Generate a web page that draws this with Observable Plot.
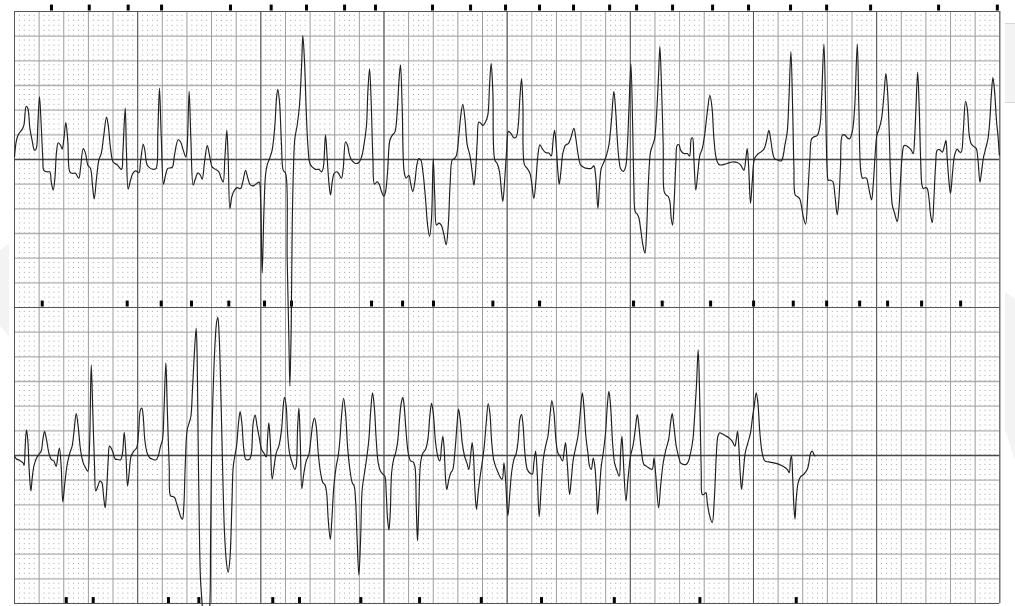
<!DOCTYPE html>
<html>
<head>
<meta charset="utf-8">
<script src="https://cdn.jsdelivr.net/npm/d3@7"></script>
<script src="https://cdn.jsdelivr.net/npm/@observablehq/plot@0.6"></script>
<style>
  html, body { margin: 0; padding: 0; background: #fff; overflow: hidden; }
  #chart { position: absolute; left: 0; top: 0; }
  .sheet { position: absolute; background: #f3f3f3; }
</style>
</head>
<body>
<div id="chart"></div>
<div class="sheet" style="left:1005px; top:23px; width:10px; height:78px; border-top:1px solid #d6d6d6; border-bottom:1px solid #d6d6d6;"></div>
<div class="sheet" style="left:1005px; top:292px; width:10px; height:168px; clip-path: polygon(0 0, 100% 4%, 100% 100%, 0 82%);"></div>
<div class="sheet" style="left:0px; top:243px; width:9px; height:94px; clip-path: polygon(0 8%, 100% 0, 100% 100%, 0 88%);"></div>
<script>
// ECG rhythm strip: time in seconds, amplitude in mV (25 mm/s, 10 mm/mV)
const stripTop = [
[0,0.05],[0.016,0.39],[0.035,0.52],[0.062,0.61],[0.076,0.69],[0.095,1.08],[0.108,1.04],[0.125,0.63],[0.143,0.39],[0.162,0.19],[0.176,0.22],[0.189,0.69],[0.203,1.27],[0.217,0.69],[0.230,0.02],[0.238,-0.22],[0.265,-0.25],[0.287,-0.25],[0.298,-0.45],[0.314,-0.62],[0.328,-0.38],[0.341,0.15],[0.355,0.34],[0.374,0.29],[0.387,0.21],[0.401,0.42],[0.417,0.75],[0.433,0.36],[0.449,-0.25],[0.468,-0.28],[0.495,-0.28],[0.522,-0.38],[0.536,-0.18],[0.558,0.22],[0.577,0.12],[0.595,-0.11],[0.617,-0.18],[0.633,-0.52],[0.647,-0.80],[0.666,-0.38],[0.685,-0.01],[0.704,0.12],[0.725,0.49],[0.747,0.86],[0.761,0.69],[0.780,0.22],[0.801,-0.05],[0.834,-0.11],[0.869,-0.20],[0.880,0.15],[0.899,1.04],[0.909,0.15],[0.923,-0.60],[0.942,-0.42],[0.961,-0.28],[0.983,-0.23],[1.010,-0.27],[1.023,-0.05],[1.045,0.31],[1.058,0.19],[1.077,-0.11],[1.104,-0.18],[1.131,-0.20],[1.150,-0.18],[1.164,0.56],[1.177,1.45],[1.191,0.49],[1.210,-0.50],[1.226,-0.32],[1.245,-0.18],[1.267,-0.17],[1.283,-0.15],[1.299,0.09],[1.329,0.40],[1.348,0.36],[1.370,0.19],[1.391,0.05],[1.402,0.26],[1.418,1.38],[1.432,0.42],[1.451,-0.52],[1.470,-0.38],[1.489,-0.27],[1.510,-0.32],[1.524,-0.40],[1.543,-0.05],[1.565,0.28],[1.583,0.09],[1.605,-0.15],[1.632,-0.20],[1.659,-0.25],[1.678,-0.38],[1.694,-0.46],[1.708,0.02],[1.724,0.59],[1.735,0.02],[1.749,-0.99],[1.765,-0.75],[1.786,-0.62],[1.808,-0.57],[1.835,-0.59],[1.854,-0.45],[1.876,-0.22],[1.895,-0.38],[1.916,-0.52],[1.943,-0.53],[1.970,-0.48],[1.987,-0.46],
[1.998,-0.79],[2.011,-2.30],[2.025,-1.06],[2.038,-0.32],[2.052,-0.11],[2.071,0.02],[2.092,0.19],[2.114,0.69],[2.127,1.23],[2.138,1.42],[2.152,1.16],[2.168,0.29],[2.182,-0.22],[2.201,-0.28],[2.214,-2.00],[2.228,-3.67],[2.236,-4.59],[2.247,-3.34],[2.255,-1.33],[2.266,-0.11],[2.276,0.42],[2.295,0.69],[2.314,1.10],[2.331,1.90],[2.341,2.51],[2.355,1.97],[2.369,0.96],[2.382,0.29],[2.398,-0.08],[2.417,-0.15],[2.444,-0.20],[2.471,-0.20],[2.493,-0.25],[2.506,-0.18],[2.525,0.50],[2.539,0.02],[2.552,-0.45],[2.566,-0.72],[2.580,-0.45],[2.596,-0.28],[2.620,-0.25],[2.639,-0.32],[2.655,-0.38],[2.669,-0.18],[2.688,0.36],[2.704,0.29],[2.720,0.09],[2.742,-0.03],[2.769,-0.08],[2.796,-0.06],[2.818,0.05],[2.837,0.29],[2.858,0.69],[2.869,1.37],[2.883,1.84],[2.896,1.16],[2.910,0.02],[2.923,-0.50],[2.945,-0.45],[2.964,-0.52],[2.980,-0.65],[2.999,-0.74],[3.013,-0.65],[3.029,-0.25],[3.048,0.39],[3.067,0.49],[3.089,0.56],[3.107,0.96],[3.121,1.57],[3.134,1.92],[3.148,1.03],[3.164,-0.25],[3.180,-0.38],[3.202,-0.32],[3.216,-0.48],[3.234,-0.65],[3.251,-0.45],[3.267,-0.11],[3.283,0.02],[3.299,-0.01],[3.316,-0.25],[3.337,-0.79],[3.354,-1.33],[3.370,-1.56],[3.386,-1.19],[3.400,0.02],[3.413,-0.79],[3.427,-1.33],[3.446,-1.29],[3.465,-1.33],[3.487,-1.53],[3.505,-1.73],[3.522,-1.33],[3.538,-0.45],[3.554,-0.01],[3.573,0.02],[3.589,0.09],[3.608,0.49],[3.624,0.90],[3.640,1.12],[3.657,0.83],[3.676,0.29],[3.697,0.09],[3.716,-0.25],[3.730,-0.52],[3.743,-0.25],[3.757,0.36],[3.770,0.76],[3.787,0.73],[3.803,0.69],[3.824,0.76],[3.843,0.90],[3.857,1.50],[3.870,1.95],[3.884,1.37],[3.900,-0.01],[3.919,-0.08],[3.938,-0.25],[3.954,-0.65],
[3.965,-0.85],[3.979,-0.45],[3.995,0.15],[4.011,0.57],[4.033,0.52],[4.055,0.44],[4.074,0.46],[4.090,0.69],[4.103,1.23],[4.117,1.64],[4.128,1.10],[4.141,-0.11],[4.163,-0.18],[4.185,-0.28],[4.198,-0.45],[4.217,-0.79],[4.233,-0.45],[4.250,0.09],[4.266,0.30],[4.285,0.22],[4.312,0.14],[4.339,0.13],[4.358,0.07],[4.374,0.42],[4.385,0.59],[4.398,0.29],[4.412,-0.25],[4.423,-0.50],[4.439,-0.18],[4.452,0.12],[4.474,0.29],[4.496,0.32],[4.515,0.42],[4.542,0.63],[4.558,0.42],[4.577,0.09],[4.596,-0.11],[4.623,-0.16],[4.650,-0.18],[4.683,-0.18],[4.704,-0.13],[4.718,-0.32],[4.737,-0.99],[4.750,-0.52],[4.764,-0.18],[4.786,-0.05],[4.807,0.09],[4.826,0.29],[4.848,0.83],[4.866,1.38],[4.880,1.03],[4.894,0.42],[4.907,0.02],[4.921,-0.18],[4.943,-0.24],[4.962,-0.15],[4.975,0.22],[4.989,1.03],[5.005,1.94],[5.019,0.69],[5.029,-0.52],[5.040,-1.06],[5.057,-1.11],[5.070,-1.19],[5.083,-1.39],[5.102,-1.73],[5.119,-1.90],[5.132,-1.46],[5.146,-0.52],[5.164,0.15],[5.181,0.29],[5.197,0.42],[5.213,0.90],[5.229,1.70],[5.240,2.29],[5.253,1.50],[5.267,0.29],[5.275,-0.65],[5.291,-0.72],[5.308,-0.75],[5.321,-0.85],[5.332,-1.19],[5.343,-1.33],[5.356,-0.85],[5.370,-0.05],[5.381,0.29],[5.395,0.30],[5.408,0.19],[5.435,0.12],[5.462,0.12],[5.481,0.07],[5.495,0.42],[5.505,0.44],[5.516,0.02],[5.532,-0.62],[5.549,-0.25],[5.565,0.09],[5.584,0.22],[5.603,0.49],[5.625,0.96],[5.646,1.30],[5.663,1.06],[5.679,0.42],[5.698,0.02],[5.719,-0.10],[5.746,-0.11],[5.787,-0.08],[5.828,-0.05],[5.868,-0.06],[5.895,-0.11],[5.922,-0.22],[5.938,0.02],[5.949,0.22],[5.960,-0.11],[5.976,-0.89],
[5.990,-0.45],[6.009,0.02],[6.031,0.10],[6.058,0.15],[6.085,0.21],[6.104,0.36],[6.125,0.59],[6.139,0.42],[6.155,0.15],[6.171,0.02],[6.198,-0.01],[6.225,-0.03],[6.239,0.05],[6.255,0.29],[6.274,0.56],[6.288,1.23],[6.304,2.19],[6.318,1.03],[6.328,-0.11],[6.339,-0.72],[6.355,-0.75],[6.374,-0.79],[6.388,-0.92],[6.404,-1.16],[6.423,-1.31],[6.442,-0.65],[6.458,0.02],[6.472,0.42],[6.491,0.46],[6.518,0.49],[6.540,0.69],[6.553,1.23],[6.572,2.34],[6.586,1.03],[6.599,-0.25],[6.607,-0.42],[6.626,-0.42],[6.645,-0.45],[6.661,-0.72],[6.680,-1.12],[6.694,-0.79],[6.707,-0.11],[6.721,0.49],[6.740,0.50],[6.762,0.44],[6.780,0.42],[6.802,0.56],[6.821,1.03],[6.843,2.34],[6.856,1.03],[6.872,-0.25],[6.886,-0.38],[6.902,-0.37],[6.918,-0.38],[6.932,-0.52],[6.945,-0.69],[6.959,-0.82],[6.972,-0.52],[6.986,0.02],[7.002,0.49],[7.021,0.63],[7.040,0.83],[7.059,1.30],[7.075,1.74],[7.089,1.37],[7.103,0.49],[7.113,-0.32],[7.127,-0.92],[7.146,-1.09],[7.167,-1.26],[7.181,-0.99],[7.195,-0.38],[7.208,0.09],[7.222,0.28],[7.241,0.28],[7.262,0.24],[7.281,0.19],[7.297,0.12],[7.308,0.42],[7.319,1.03],[7.333,1.77],[7.346,1.03],[7.357,0.02],[7.368,-0.52],[7.379,-0.59],[7.398,-0.57],[7.411,-0.59],[7.425,-0.79],[7.438,-1.12],[7.452,-1.28],[7.465,-0.79],[7.479,-0.11],[7.492,0.19],[7.511,0.20],[7.533,0.15],[7.552,0.29],[7.563,0.39],[7.573,0.02],[7.590,-0.52],[7.600,-0.69],[7.617,-0.25],[7.633,0.09],[7.654,0.21],[7.674,0.15],[7.687,0.15],[7.703,0.56],[7.722,1.18],[7.736,1.03],[7.752,0.49],[7.768,0.32],[7.790,0.26],[7.809,0.22],[7.822,0.02],[7.839,-0.46],[7.852,-0.25],[7.866,0.02],[7.885,0.22],[7.904,0.42],[7.920,0.83],[7.931,1.30],[7.944,1.66],[7.958,1.37],[7.974,0.76],[7.985,0.49],[7.996,0.09]
];

const stripBottom = [
[0,-0.01],[0.016,-0.07],[0.035,-0.09],[0.054,-0.12],[0.070,-0.15],[0.078,-0.20],[0.087,0.19],[0.097,0.52],[0.108,0.32],[0.119,-0.28],[0.133,-0.72],[0.143,-0.48],[0.157,-0.22],[0.179,-0.05],[0.198,0.02],[0.217,0.09],[0.230,0.32],[0.244,0.49],[0.260,0.32],[0.279,0.05],[0.298,-0.08],[0.319,-0.11],[0.338,-0.22],[0.352,-0.01],[0.365,0.15],[0.379,-0.22],[0.392,-0.94],[0.406,-0.62],[0.428,-0.18],[0.449,0.05],[0.468,0.19],[0.482,0.46],[0.501,0.85],[0.517,0.59],[0.536,0.12],[0.558,-0.15],[0.577,-0.25],[0.595,-0.32],[0.609,0.19],[0.623,1.84],[0.636,0.86],[0.650,-0.22],[0.660,-0.72],[0.677,-0.62],[0.693,-0.52],[0.709,-0.55],[0.723,-0.82],[0.736,-1.06],[0.747,-0.75],[0.761,-0.08],[0.771,0.19],[0.785,0.15],[0.801,0.05],[0.817,-0.07],[0.839,-0.08],[0.861,-0.09],[0.877,0.05],[0.891,0.47],[0.904,0.05],[0.918,-0.62],[0.931,-0.35],[0.947,-0.01],[0.969,0.09],[0.991,0.15],[1.007,0.46],[1.023,0.93],[1.034,0.96],[1.045,0.79],[1.058,0.32],[1.077,0.05],[1.099,-0.05],[1.126,-0.08],[1.148,-0.09],[1.167,-0.01],[1.186,0.19],[1.202,0.32],[1.213,0.86],[1.229,1.88],[1.240,1.00],[1.256,-0.22],[1.267,-0.82],[1.283,-0.83],[1.299,-0.85],[1.315,-0.96],[1.334,-1.12],[1.353,-1.26],[1.364,-1.29],[1.375,-1.02],[1.386,-0.22],[1.402,0.52],[1.418,0.66],[1.432,0.79],[1.445,1.33],[1.459,2.01],[1.475,2.58],[1.483,2.01],[1.491,0.32],[1.500,-1.36],[1.510,-2.50],[1.524,-3.04],[1.537,-3.71],[1.562,-3.85],[1.586,-3.04],[1.592,-1.70],[1.602,0.32],[1.613,1.33],[1.627,2.21],[1.640,2.68],[1.651,2.80],[1.662,2.41],[1.678,1.00],[1.692,-0.48],[1.705,-1.56],[1.721,-2.17],[1.735,-2.37],[1.749,-2.10],[1.765,-1.02],[1.776,-0.22],[1.789,-0.01],[1.803,0.19],[1.819,0.66],[1.832,0.89],[1.846,0.66],[1.862,0.12],[1.878,-0.08],[1.895,-0.09],[1.911,-0.07],[1.924,0.05],[1.938,0.66],[1.954,0.82],[1.970,0.59],
[1.990,0.32],[2.006,0.12],[2.025,0.05],[2.044,-0.03],[2.054,0.32],[2.065,0.66],[2.076,0.32],[2.092,-0.48],[2.108,-0.22],[2.125,0.05],[2.146,0.19],[2.168,0.52],[2.182,1.00],[2.192,1.18],[2.206,1.00],[2.217,0.46],[2.233,0.05],[2.255,-0.15],[2.276,-0.28],[2.287,-0.22],[2.298,0.52],[2.309,0.96],[2.320,0.32],[2.333,-0.67],[2.350,-0.35],[2.369,-0.11],[2.390,0.02],[2.406,0.32],[2.423,0.66],[2.436,0.76],[2.450,0.59],[2.466,0.05],[2.485,-0.35],[2.504,-0.55],[2.520,-0.59],[2.534,-0.75],[2.547,-1.29],[2.564,-1.70],[2.577,-1.29],[2.593,-0.62],[2.612,-0.22],[2.628,-0.01],[2.642,0.32],[2.655,0.79],[2.672,1.16],[2.688,0.86],[2.704,0.19],[2.723,-0.28],[2.742,-0.55],[2.758,-0.62],[2.769,-0.89],[2.782,-1.70],[2.796,-2.42],[2.810,-1.70],[2.823,-0.69],[2.842,-0.35],[2.858,-0.08],[2.877,0.32],[2.891,0.86],[2.907,1.27],[2.921,1.00],[2.937,0.32],[2.953,-0.15],[2.972,-0.32],[2.991,-0.38],[3.007,-0.42],[3.018,-0.75],[3.029,-1.29],[3.040,-1.51],[3.051,-1.16],[3.062,-0.35],[3.078,-0.08],[3.094,0.05],[3.110,0.26],[3.126,0.73],[3.140,1.06],[3.153,1.18],[3.164,1.00],[3.180,0.46],[3.197,0.05],[3.216,-0.11],[3.237,-0.13],[3.251,-0.22],[3.262,-1.02],[3.272,-1.73],[3.283,-1.02],[3.297,-0.15],[3.316,0.05],[3.337,0.12],[3.356,0.32],[3.372,0.79],[3.386,1.06],[3.400,0.86],[3.419,0.26],[3.440,-0.05],[3.454,-0.11],[3.467,0.19],[3.478,0.39],[3.489,0.12],[3.500,-0.48],[3.510,-0.69],[3.527,-0.48],[3.543,-0.35],[3.559,-0.28],[3.575,0.05],[3.592,0.59],[3.605,0.94],[3.619,0.73],[3.635,0.26],[3.654,-0.01],[3.673,-0.15],[3.689,-0.28],[3.703,-0.01],[3.716,0.26],[3.727,-0.01],[3.738,-0.69],[3.751,-1.09],[3.765,-0.75],[3.781,-0.42],[3.797,-0.15],[3.814,0.19],[3.830,0.66],[3.846,1.05],[3.860,0.86],[3.873,0.32],[3.890,-0.08],[3.906,-0.22],[3.927,-0.35],[3.946,-0.45],[3.960,-0.48],[3.974,-0.15],
[3.987,-0.48],[4.006,-1.22],[4.022,-0.75],[4.036,-0.35],[4.055,-0.08],[4.074,0.05],[4.090,0.32],[4.103,0.73],[4.117,0.83],[4.130,0.59],[4.144,0.05],[4.163,-0.28],[4.182,-0.35],[4.204,-0.38],[4.217,-0.15],[4.231,0.09],[4.244,-0.35],[4.260,-1.24],[4.277,-0.62],[4.293,-0.08],[4.312,0.19],[4.331,0.39],[4.347,0.79],[4.363,1.11],[4.380,0.86],[4.396,0.32],[4.412,0.05],[4.428,-0.01],[4.450,-0.11],[4.461,0.05],[4.474,0.26],[4.488,-0.15],[4.507,-0.79],[4.521,-0.48],[4.537,-0.08],[4.553,0.12],[4.575,0.39],[4.591,0.79],[4.610,1.27],[4.623,1.00],[4.639,0.39],[4.656,0.05],[4.669,-0.22],[4.683,-0.28],[4.699,-0.05],[4.712,-0.22],[4.726,-0.75],[4.734,-1.19],[4.748,-0.75],[4.764,-0.22],[4.780,0.05],[4.799,0.46],[4.813,1.00],[4.826,1.30],[4.840,1.00],[4.856,0.26],[4.872,-0.15],[4.888,-0.28],[4.910,-0.42],[4.921,0.05],[4.932,0.39],[4.943,-0.08],[4.965,-0.92],[4.981,-0.48],[5.002,-0.01],[5.021,0.19],[5.040,0.52],[5.057,0.83],[5.070,0.59],[5.089,0.12],[5.110,-0.18],[5.132,-0.22],[5.156,-0.26],[5.178,-0.28],[5.192,-0.05],[5.205,-0.35],[5.230,-1.06],[5.246,-0.62],[5.267,-0.15],[5.289,0.12],[5.311,0.32],[5.327,0.66],[5.340,0.85],[5.354,0.59],[5.373,0.19],[5.395,-0.05],[5.408,-0.15],[5.430,-0.18],[5.454,-0.18],[5.473,-0.11],[5.489,0.05],[5.508,0.32],[5.522,0.79],[5.538,1.47],[5.551,2.14],[5.565,1.00],[5.576,-0.35],[5.584,-0.79],[5.598,-0.79],[5.614,-0.75],[5.625,-0.96],[5.644,-1.22],[5.665,-1.36],[5.682,-0.89],[5.698,-0.01],[5.711,0.39],[5.725,0.46],[5.746,0.44],[5.773,0.40],[5.800,0.36],[5.827,0.29],[5.849,0.19],[5.860,0.32],[5.871,0.49],[5.881,0.19],[5.892,-0.35],[5.903,-0.69],[5.917,-0.35],[5.933,0.05],[5.955,0.26],[5.976,0.46],[5.993,0.79],[6.006,1.00],[6.022,1.27],[6.036,1.06],[6.052,0.46],[6.071,0.05],[6.093,-0.11],[6.125,-0.13],[6.166,-0.15],[6.207,-0.18],[6.247,-0.23],[6.274,-0.28],[6.290,-0.35],[6.301,-0.08],[6.309,-0.01],[6.318,-0.42],[6.328,-1.02],[6.337,-1.29],[6.347,-0.89],[6.363,-0.55],[6.383,-0.43],[6.409,-0.38],[6.437,-0.28],[6.450,-0.15],[6.464,0.05],[6.477,0.09],[6.491,0.02],[6.499,-0.01]
];

// beat annotation marks (seconds)
const marksTopStrip = [0.30,0.607,0.923,1.194,1.754,2.084,2.371,2.68,2.931,3.394,3.703,3.987,4.263,4.539,4.832,5.051,5.343,5.668,5.96,6.301,6.594,6.951,7.503,7.98];
const marksMidStrip = [0.225,0.915,1.191,1.437,1.74,2.03,2.249,2.899,3.151,3.402,3.884,4.263,5.026,5.259,5.652,6.001,6.323,6.594,6.862,7.089,7.365,7.682];
const marksLowStrip = [0.42,0.639,1.25,1.497,2.097,2.314,2.812,3.289,3.79,4.279,4.87,5.565,6.347];

// ECG paper grid
const secondsPerStrip = 8;
const mvHalfRange = 3;

const majorT = d3.range(0, secondsPerStrip / 0.2 + 1).map(i => +(i * 0.2).toFixed(2));
const secondT = d3.range(0, secondsPerStrip + 1);
const minorT = d3.range(0, secondsPerStrip / 0.04).filter(i => i % 5 !== 0).map(i => +(i * 0.04).toFixed(3));
const majorV = d3.range(-6, 7).map(i => i * 0.5);

const trace = [
  ...stripTop.map(([t, v]) => ({strip: 1, t, v})),
  ...stripBottom.map(([t, v]) => ({strip: 2, t, v}))
];
const marks = [
  ...marksTopStrip.map(t => ({strip: 1, t, y1: 3.01, y2: 3.13})),
  ...marksMidStrip.map(t => ({strip: 2, t, y1: 3.01, y2: 3.13})),
  ...marksLowStrip.map(t => ({strip: 2, t, y1: -3.0, y2: -2.88}))
];

const W = 1015, H = 606;
const mmPx = (H - 10.7 - 2.1) / 2 / 60;

const chart = Plot.plot({
  width: W,
  height: H,
  marginLeft: 14,
  marginRight: 15.7,
  marginTop: 10.7,
  marginBottom: 2.1,
  style: {background: "#ffffff", overflow: "visible"},
  x: {domain: [0, secondsPerStrip], axis: null},
  y: {domain: [-mvHalfRange, mvHalfRange], axis: null},
  fy: {domain: [1, 2], axis: null, padding: 0},
  marks: [
    Plot.ruleX(minorT, {x: d => d, y1: -mvHalfRange, y2: mvHalfRange, stroke: "#a4a4a4", strokeWidth: 1,
      strokeDasharray: `1 ${(mmPx - 1).toFixed(3)}`, strokeDashoffset: 0.5}),
    Plot.ruleY(majorV.filter(v => v !== 0 && Math.abs(v) !== 3), {y: d => d, stroke: "#b0b0b0", strokeWidth: 1.4}),
    Plot.ruleX(majorT, {x: d => d, y1: -mvHalfRange, y2: mvHalfRange, stroke: "#9c9c9c", strokeWidth: 1}),
    Plot.ruleX(secondT, {x: d => d, y1: -mvHalfRange, y2: mvHalfRange, stroke: "#555", strokeWidth: 1}),
    Plot.ruleY([0], {stroke: "#4a4a4a", strokeWidth: 1.3}),
    Plot.ruleY([-mvHalfRange, mvHalfRange], {stroke: "#555", strokeWidth: 1.2}),
    Plot.ruleX(marks, {x: "t", y1: "y1", y2: "y2", fy: "strip", stroke: "#000", strokeWidth: 3}),
    Plot.line(trace, {x: "t", y: "v", fy: "strip", stroke: "#1e1e1e", strokeWidth: 1.15, curve: "catmull-rom"})
  ]
});
document.getElementById("chart").appendChild(chart);
</script>
</body>
</html>
